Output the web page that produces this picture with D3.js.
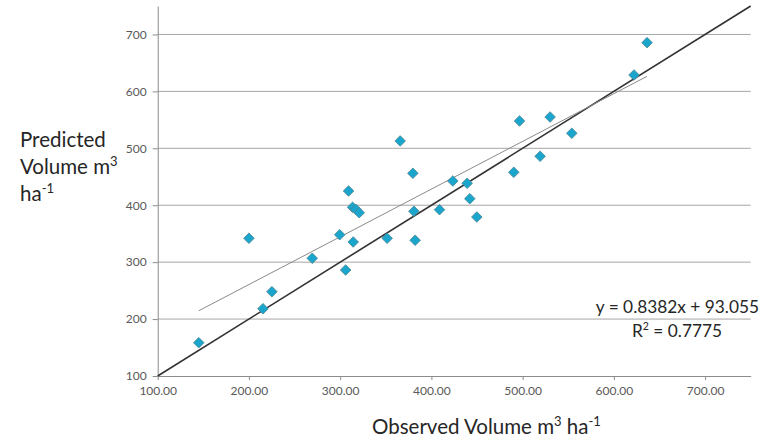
<!DOCTYPE html>
<html><head><meta charset="utf-8">
<script src="https://cdn.jsdelivr.net/npm/d3@7"></script>
<style>body{margin:0;background:#fff}svg{display:block}</style>
</head><body>
<svg id="c" width="772" height="443"></svg>
<script>
const observed = [145,200,269.4,225.2,215.4,299.5,365.8,379.7,309.2,423.5,439.2,313.6,317.2,320.9,442.1,380.8,408.9,449.8,314.3,351.5,382.2,306,636.4,622.1,496.6,530.1,553.9,519.2,490.3];
const predicted = [158.5,342,306.8,248.1,218.2,348.2,512.9,456.1,425,442.6,438.5,396.4,392.8,386.9,411.5,389.4,392.2,379.3,335.4,341.9,338.4,286.2,685.6,628.8,548,555,526.4,486,457.9];
const xTicks = [100,200,300,400,500,600,700];
const yTicks = [100,200,300,400,500,600,700];
const slope = 0.8382, intercept = 93.055, r2 = "0.7775";

const svg = d3.select("#c");
const x = d3.scaleLinear().domain([100,750]).range([157.7,750.7]);
const y = d3.scaleLinear().domain([100,750]).range([376,6]);
const font = "Lato, 'Open Sans', sans-serif";

// gridlines
svg.append("g").selectAll("line").data(yTicks.filter(d=>d>100)).join("line")
  .attr("x1",x(100)).attr("x2",x(750)).attr("y1",d=>y(d)).attr("y2",d=>y(d))
  .attr("stroke","#a6a6a6").attr("stroke-width",1);

// x axis
const xa = svg.append("g").attr("transform",`translate(0,${y(100)})`)
  .call(d3.axisBottom(x).tickValues(xTicks).tickFormat(d3.format(".2f")).tickSize(4).tickSizeOuter(0).tickPadding(6));
xa.select(".domain").attr("stroke","#8c8c8c");
xa.selectAll(".tick line").attr("stroke","#8c8c8c");
xa.selectAll("text").attr("fill","#595959").style("font-family",font).style("font-size","12px");

// y axis
const ya = svg.append("g").attr("transform",`translate(${x(100)},0)`)
  .call(d3.axisLeft(y).tickValues(yTicks).tickFormat(d3.format("d")).tickSize(5).tickSizeOuter(0).tickPadding(6));
ya.select(".domain").attr("stroke","#8c8c8c");
ya.selectAll(".tick line").attr("stroke","#8c8c8c");
ya.selectAll("text").attr("fill","#595959").style("font-family",font).style("font-size","12px");

// 1:1 line
svg.append("line").attr("x1",x(100)).attr("y1",y(100)).attr("x2",x(750)).attr("y2",y(750))
  .attr("stroke","#333").attr("stroke-width",1.6);

// trendline
const xmin = d3.min(observed), xmax = d3.max(observed);
svg.append("line").attr("x1",x(xmin)).attr("y1",y(slope*xmin+intercept))
  .attr("x2",x(xmax)).attr("y2",y(slope*xmax+intercept))
  .attr("stroke","#8a8a8a").attr("stroke-width",1);

// points
svg.append("g").selectAll("path").data(observed.map((o,i)=>[o,predicted[i]])).join("path")
  .attr("d",d3.symbol().type(d3.symbolSquare).size(56))
  .attr("transform",d=>`translate(${x(d[0])},${y(d[1])}) rotate(45)`)
  .attr("fill","#1aa6cc").attr("stroke","#4d8796").attr("stroke-width",0.8);

// equation
svg.append("text").attr("x",759).attr("y",313).attr("text-anchor","end")
  .style("font-family",font).style("font-size","17.3px").attr("fill","#262626")
  .text(`y = ${slope}x + ${intercept}`);
const r = svg.append("text").attr("x",722).attr("y",337).attr("text-anchor","end")
  .style("font-family",font).style("font-size","17.3px").attr("fill","#262626");
r.append("tspan").text("R");
r.append("tspan").attr("dy",-7).style("font-size","10.5px").text("2");
r.append("tspan").attr("dy",7).text(" = " + r2);

// x title
const xt = svg.append("text").attr("x",372).attr("y",434)
  .style("font-family",font).style("font-size","20.5px").attr("fill","#262626");
xt.append("tspan").text("Observed Volume m");
xt.append("tspan").attr("dy",-8).style("font-size","13px").text("3");
xt.append("tspan").attr("dy",8).text(" ha");
xt.append("tspan").attr("dy",-8).style("font-size","13px").text("-1");

// y title
const yt = svg.append("g").style("font-family",font).style("font-size","20.5px").attr("fill","#262626");
yt.append("text").attr("x",20).attr("y",147).text("Predicted");
const y2 = yt.append("text").attr("x",20).attr("y",174);
y2.append("tspan").text("Volume m");
y2.append("tspan").attr("dy",-8).style("font-size","13px").text("3");
const y3 = yt.append("text").attr("x",20).attr("y",201);
y3.append("tspan").text("ha");
y3.append("tspan").attr("dy",-8).style("font-size","13px").text("-1");
</script>
</body></html>
